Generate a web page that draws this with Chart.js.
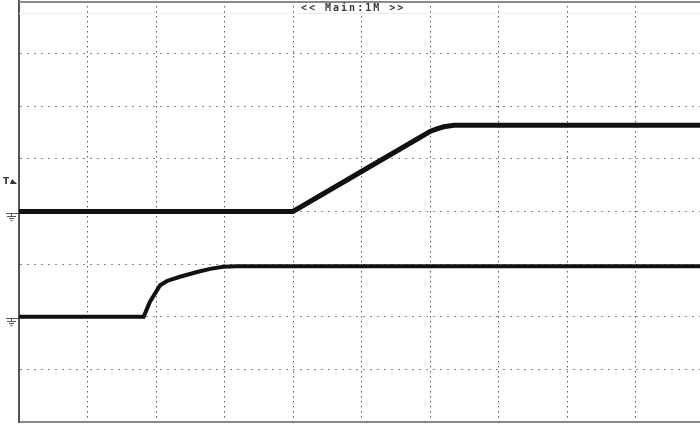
<!DOCTYPE html>
<html>
<head>
<meta charset="utf-8">
<script src="https://cdn.jsdelivr.net/npm/chart.js@4/dist/chart.umd.min.js"></script>
<style>
  html, body { margin: 0; padding: 0; background: #fff; overflow: hidden; }
  #scope { display: block; }
</style>
</head>
<body>
<canvas id="scope" width="705" height="425"></canvas>
<script>
// Scope capture, values in screen divisions (10 x 8 grid)
const headerText = '<< Main:1M >>';

// CH1 - ramp trace (upper)
const ch1X = [0, 4.0, 5.0, 6.0, 6.1, 6.2, 6.35, 6.6, 10.3];
const ch1Y = [0, 0, 0.76, 1.52, 1.57, 1.61, 1.64, 1.64, 1.64];

// CH2 - fast rise trace (lower)
const ch2X = [0, 1.82, 1.91, 1.99, 2.06, 2.16, 2.35, 2.60, 2.79, 2.98, 3.18, 10.3];
const ch2Y = [-2.0, -2.0, -1.72, -1.55, -1.40, -1.32, -1.24, -1.15, -1.09, -1.05, -1.04, -1.04];

// Ground reference of each channel and trigger level (divisions)
const groundLevels = [0, -2];
const triggerLevel = 0.6;

const toPoints = (xs, ys) => xs.map((x, i) => ({ x: x, y: ys[i] }));

// Draws the frame, header and the left-margin markers
const scopeDecor = {
    id: 'scopeDecor',
    afterDraw(chart) {
        const ctx = chart.ctx;
        const area = chart.chartArea;
        const yScale = chart.scales.y;
        ctx.save();

        // top frame + faint header strip line
        ctx.strokeStyle = '#8a8a8a';
        ctx.lineWidth = 2;
        ctx.beginPath();
        ctx.moveTo(area.left, area.top + 1);
        ctx.lineTo(area.right, area.top + 1);
        ctx.stroke();
        ctx.strokeStyle = '#ececec';
        ctx.lineWidth = 1;
        ctx.beginPath();
        ctx.moveTo(area.left, area.top + 12.5);
        ctx.lineTo(area.right, area.top + 12.5);
        ctx.stroke();

        // header
        ctx.font = 'bold 10px "DejaVu Sans Mono", monospace';
        ctx.letterSpacing = '2px';
        ctx.textBaseline = 'middle';
        ctx.textAlign = 'left';
        const tw = ctx.measureText(headerText).width;
        ctx.fillStyle = '#fff';
        ctx.fillRect(297, area.top + 2.5, tw + 8, 9);
        ctx.fillStyle = '#3a3a3a';
        ctx.fillText(headerText, 301, area.top + 7.5);
        ctx.letterSpacing = '0px';

        // ground markers
        ctx.strokeStyle = '#555';
        ctx.lineWidth = 1;
        groundLevels.forEach(level => {
            const py = Math.round(yScale.getPixelForValue(level)) + 0.5;
            ctx.beginPath();
            ctx.moveTo(6, py + 1);
            ctx.lineTo(area.left, py + 1);
            ctx.moveTo(11.5, py + 1);
            ctx.lineTo(11.5, py + 4);
            ctx.moveTo(7, py + 4);
            ctx.lineTo(16, py + 4);
            ctx.moveTo(9, py + 6);
            ctx.lineTo(14, py + 6);
            ctx.moveTo(10.5, py + 8);
            ctx.lineTo(12.5, py + 8);
            ctx.stroke();
        });

        // trigger marker
        const ty = yScale.getPixelForValue(triggerLevel);
        ctx.fillStyle = '#333';
        ctx.font = 'bold 9px "DejaVu Sans", sans-serif';
        ctx.textBaseline = 'alphabetic';
        ctx.fillText('T', 3, ty + 4);
        ctx.beginPath();
        ctx.moveTo(10, ty + 4);
        ctx.lineTo(17, ty + 4);
        ctx.lineTo(12, ty - 1);
        ctx.closePath();
        ctx.fill();

        ctx.restore();
    }
};

const ctx = document.getElementById('scope').getContext('2d');
new Chart(ctx, {
    type: 'line',
    data: {
        datasets: [
            {
                label: 'CH1',
                data: toPoints(ch1X, ch1Y),
                borderColor: '#111',
                borderWidth: 5,
                pointRadius: 0,
                tension: 0
            },
            {
                label: 'CH2',
                data: toPoints(ch2X, ch2Y),
                borderColor: '#111',
                borderWidth: 4,
                pointRadius: 0,
                tension: 0
            }
        ]
    },
    options: {
        responsive: false,
        animation: false,
        layout: {
            padding: { left: 19, top: 1, right: 1, bottom: 3 }
        },
        plugins: {
            legend: { display: false },
            tooltip: { enabled: false }
        },
        scales: {
            x: {
                type: 'linear',
                min: 0,
                max: 10,
                ticks: { display: false, stepSize: 1 },
                grid: {
                    color: '#5a5a5a',
                    lineWidth: 1,
                    drawTicks: false
                },
                border: { display: true, color: '#8a8a8a', width: 2, dash: [1.5, 3.5] }
            },
            y: {
                type: 'linear',
                min: -4,
                max: 4,
                ticks: { display: false, stepSize: 1 },
                grid: {
                    color: '#8a8a8a',
                    lineWidth: 1,
                    drawTicks: false
                },
                border: { display: true, color: '#555', width: 2, dash: [2, 5] }
            }
        }
    },
    plugins: [scopeDecor]
});
</script>
</body>
</html>
